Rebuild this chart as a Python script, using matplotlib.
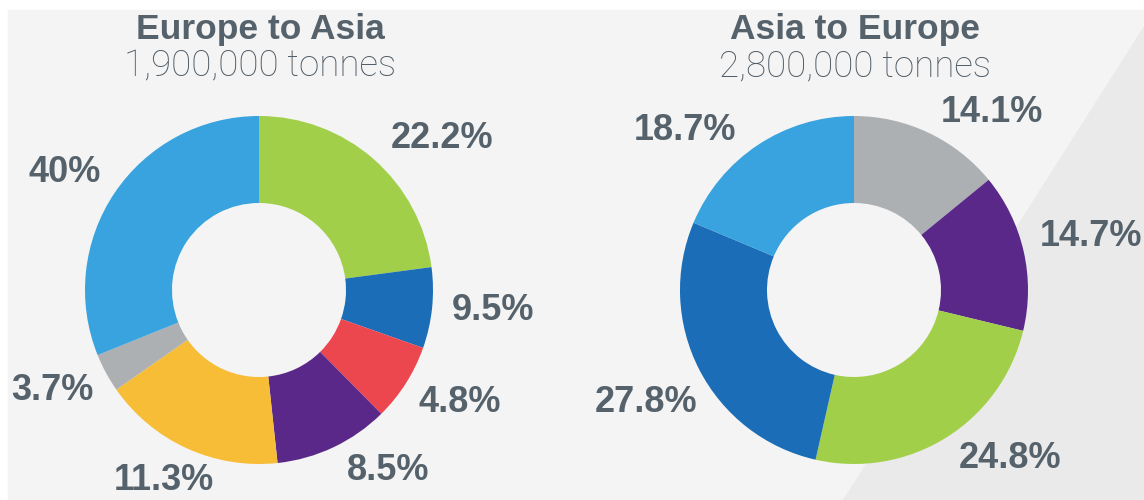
import matplotlib
matplotlib.use("Agg")
import matplotlib.pyplot as plt
from matplotlib.patches import Rectangle, Polygon

# Europe to Asia: printed labels, and the arc shares as actually drawn
ea_labels = ["22.2%", "9.5%", "4.8%", "8.5%", "11.3%", "3.7%", "40%"]
ea_arc_share = [22.9, 7.5, 7.2, 10.7, 17.0, 3.6, 31.1]
ea_colors = ["#a2cf49", "#1a6db6", "#ec464f", "#5a2889", "#f8bd37", "#adb0b3", "#38a3de"]

# Asia to Europe
ae_share = [14.1, 14.7, 24.8, 27.8, 18.7]
ae_labels = ["14.1%", "14.7%", "24.8%", "27.8%", "18.7%"]
ae_colors = ["#adb0b3", "#5a2889", "#a2cf49", "#1a6db6", "#38a3de"]

titles = ["Europe to Asia", "Asia to Europe"]
subtitles = ["1,900,000 tonnes", "2,800,000 tonnes"]

# layout (pixel coordinates, y measured from the top)
W, H = 1144, 500
centers = [(259, 290), (854, 290)]
R_OUT, R_IN = 174, 87
ea_label_xy = [(442, 139), (493, 310), (460, 402), (388, 470),
               (164, 481), (52, 390), (65, 172)]
ae_label_xy = [(992, 112), (1091, 237), (1010, 459), (646, 402), (685, 130)]

TXT = "#56626b"

fig = plt.figure(figsize=(W / 100, H / 100), dpi=100, facecolor="white")
ax = fig.add_axes([0, 0, 1, 1])

# panel background and the diagonal shade at the right
ax.add_patch(Rectangle((8, 10), W - 8, H - 10, color="#f4f4f4", zorder=0))
ax.add_patch(Polygon([(W, 26), (W, H), (843, H)], closed=True,
                     color="#eaeaea", zorder=0.5))

for share, cols, c in [(ea_arc_share, ea_colors, centers[0]),
                       (ae_share, ae_colors, centers[1])]:
    ax.pie(share, colors=cols, center=c, radius=R_OUT, startangle=-90,
           counterclock=True, frame=True,
           wedgeprops=dict(width=R_OUT - R_IN, linewidth=0, zorder=2))

for labels, xys in [(ea_labels, ea_label_xy), (ae_labels, ae_label_xy)]:
    for lab, (x, y) in zip(labels, xys):
        ax.text(x, y, lab, ha="center", va="center", fontsize=26,
                fontweight="bold", family="Liberation Sans", color=TXT)

for (cx, cy), t, s in zip(centers, titles, subtitles):
    ax.text(cx + 1, 30, t, ha="center", va="center", fontsize=25.5,
            fontweight="bold", family="Liberation Sans", color=TXT)
    ax.text(cx + 1, 66, s, ha="center", va="center", fontsize=26.5,
            fontweight="light", family="Roboto", color="#505c66")

ax.set_xlim(0, W)
ax.set_ylim(H, 0)
ax.set_aspect("equal")
ax.axis("off")

fig.savefig("out.png", dpi=100, facecolor="white")
